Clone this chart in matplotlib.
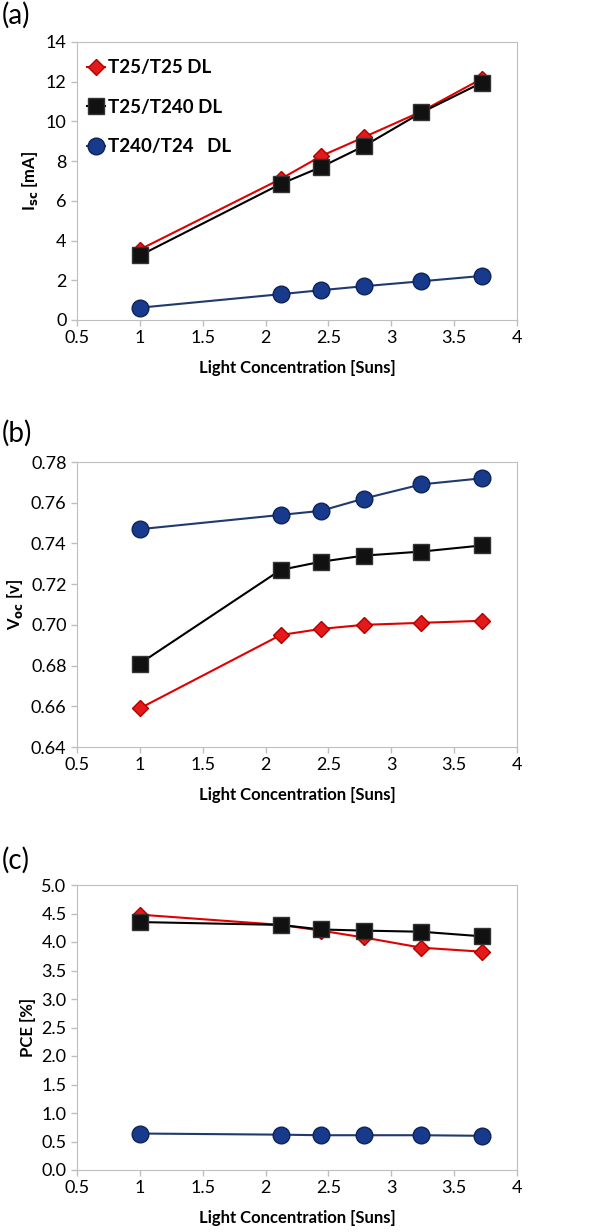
import matplotlib
matplotlib.use("Agg")
import matplotlib.pyplot as plt
import numpy as np

plt.rcParams['font.family'] = ['Lato', 'DejaVu Sans']

# light concentration (suns)
suns = [1.0, 2.12, 2.44, 2.78, 3.24, 3.72]

labels = ["T25/T25 DL", "T25/T240 DL", "T240/T24   DL"]

# (a) short-circuit current [mA]
isc_t25 = [3.55, 7.1, 8.25, 9.2, 10.5, 12.15]
isc_t25_240 = [3.25, 6.85, 7.7, 8.75, 10.45, 11.95]
isc_t240 = [0.62, 1.3, 1.5, 1.7, 1.95, 2.22]

# (b) open-circuit voltage [V]
voc_t25 = [0.659, 0.695, 0.698, 0.700, 0.701, 0.702]
voc_t25_240 = [0.681, 0.727, 0.731, 0.734, 0.736, 0.739]
voc_t240 = [0.747, 0.754, 0.756, 0.762, 0.769, 0.772]

# (c) efficiency [%]
pce_t25 = [4.48, 4.3, 4.2, 4.08, 3.9, 3.83]
pce_t25_240 = [4.35, 4.3, 4.22, 4.2, 4.18, 4.1]
pce_t240 = [0.64, 0.62, 0.61, 0.61, 0.61, 0.60]

styles = [
    dict(color='#e00000', marker='D', ms=8, mfc='#e41a1a', mec='#b00000'),
    dict(color='black', marker='s', ms=11, mfc='#111111', mec='#333333'),
    dict(color='#1f3a6e', marker='o', ms=12, mfc='#173a8c', mec='#0e2356'),
]

fig = plt.figure(figsize=(6, 12.32), dpi=100)
W, H = 600, 1232
boxes = [(77, 42, 517, 320), (77, 462, 517, 747), (77, 885, 517, 1170)]
axes = [fig.add_axes([l / W, 1 - b / H, (r - l) / W, (b - t) / H]) for l, t, r, b in boxes]

data = [
    (isc_t25, isc_t25_240, isc_t240),
    (voc_t25, voc_t25_240, voc_t240),
    (pce_t25, pce_t25_240, pce_t240),
]

for ax, series in zip(axes, data):
    for ys, st, lab in zip(series, styles, labels):
        ax.plot(suns, ys, lw=1.5, label=lab, zorder=3, **st)
    ax.set_xlim(0.5, 4)
    ax.set_xticks([0.5, 1, 1.5, 2, 2.5, 3, 3.5, 4])
    ax.set_xticklabels(['0.5', '1', '1.5', '2', '2.5', '3', '3.5', '4'])
    for s in ax.spines.values():
        s.set_color('#bfbfbf')
    ax.tick_params(colors='#bfbfbf', labelcolor='black', labelsize=13, length=4, width=1)
    ax.set_xlabel("Light Concentration [Suns]", fontsize=12, fontweight='bold', labelpad=10)

ax1, ax2, ax3 = axes

ax1.set_ylim(0, 14)
ax1.set_yticks(range(0, 15, 2))
ax1.set_ylabel(r"I$_{\mathbf{sc}}$ [mA]", fontsize=12, fontweight='bold')
ax1.legend(loc='upper left', frameon=False, prop={'weight': 'bold', 'size': 13.5},
           handlelength=1.0, handletextpad=0.15, labelspacing=1.2, borderaxespad=0.0,
           bbox_to_anchor=(0.005, 0.965))

ax2.set_ylim(0.64, 0.78)
ax2.set_yticks(np.arange(0.64, 0.781, 0.02))
ax2.set_yticklabels([f"{v:.2f}" for v in np.arange(0.64, 0.781, 0.02)])
ax2.set_ylabel(r"V$_{\mathbf{oc}}$ [v]", fontsize=12, fontweight='bold')

ax3.set_ylim(0, 5)
ax3.set_yticks(np.arange(0, 5.01, 0.5))
ax3.set_yticklabels([f"{v:.1f}" for v in np.arange(0, 5.01, 0.5)])
ax3.set_ylabel("PCE [%]", fontsize=12, fontweight='bold')

fig.text(2 / W, 1 - 15 / H, "(a)", fontsize=20, va='center', ha='left')
fig.text(2 / W, 1 - 433 / H, "(b)", fontsize=20, va='center', ha='left')
fig.text(2 / W, 1 - 860 / H, "(c)", fontsize=20, va='center', ha='left')

fig.savefig("out.png", dpi=100)
